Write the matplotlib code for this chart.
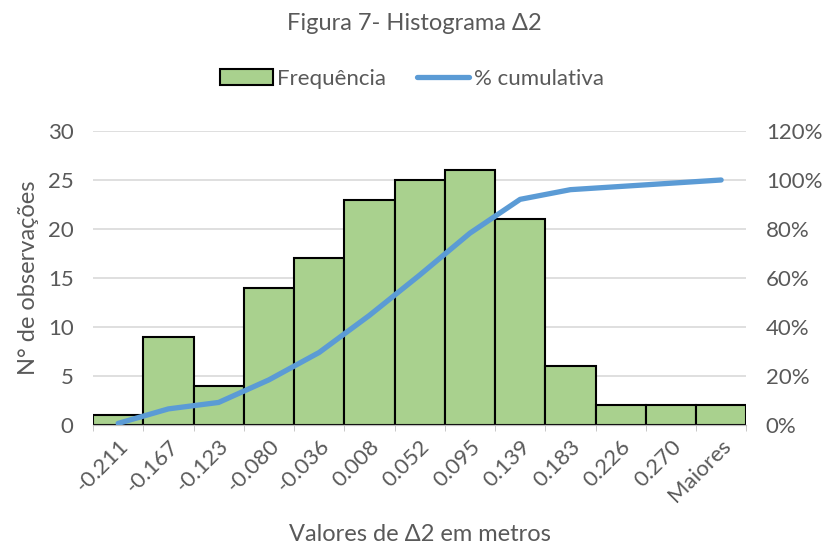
import numpy as np
import matplotlib.pyplot as plt
from matplotlib.patches import Patch
from matplotlib.lines import Line2D
from matplotlib.ticker import PercentFormatter, FixedLocator

plt.rcParams['font.family'] = ['Lato', 'DejaVu Sans']

# classes (upper limits) and counts
classes = ['-0.211', '-0.167', '-0.123', '-0.080', '-0.036', '0.008', '0.052',
           '0.095', '0.139', '0.183', '0.226', '0.270', 'Maiores']
freq = [1, 9, 4, 14, 17, 23, 25, 26, 21, 6, 2, 2, 2]
cum_pct = np.cumsum(freq) / sum(freq)

txt = '#595959'
green = '#a9d18e'
blue = '#5b9bd5'

fig = plt.figure(figsize=(8.29, 5.56), dpi=100)
ax = fig.add_axes([0.1122, 0.2356, 0.788, 0.5288])
ax2 = ax.twinx()

x = np.arange(len(classes))
ax.bar(x, freq, width=1.0, color=green, edgecolor='black', linewidth=1.5, zorder=2)
ax2.plot(x, cum_pct, color=blue, linewidth=3.8, solid_capstyle='round', zorder=3)

ax.set_xlim(-0.5, len(classes) - 0.5)
ax.set_ylim(0, 30)
ax.set_yticks(range(0, 31, 5))
ax2.set_ylim(0, 1.2)
ax2.set_yticks(np.arange(0, 1.21, 0.2))
ax2.yaxis.set_major_formatter(PercentFormatter(1.0, decimals=0))

ax.set_xticks(x)
ax.set_xticklabels(classes, rotation=45, ha='right', rotation_mode='anchor')
ax.xaxis.set_minor_locator(FixedLocator(np.arange(-0.5, len(classes), 1.0)))
ax.tick_params(axis='x', which='major', length=0, pad=8, labelsize=16, colors=txt)
ax.tick_params(axis='x', which='minor', length=4, color='#bfbfbf')
ax.tick_params(axis='y', length=0, pad=14, labelsize=16, colors=txt)
ax2.tick_params(axis='y', length=0, pad=14, labelsize=16, colors=txt)

ax.grid(axis='y', color='#d9d9d9', linewidth=1.2, zorder=0)
ax.set_axisbelow(True)
for a in (ax, ax2):
    for s in ['top', 'left', 'right']:
        a.spines[s].set_visible(False)
    a.spines['bottom'].set_color('#bfbfbf')

ax.set_ylabel('N° de observações', fontsize=17, color=txt, labelpad=6)
ax.set_xlabel('Valores de Δ2 em metros', fontsize=17, color=txt, labelpad=13)

fig.text(0.5, 0.958, 'Figura 7- Histograma Δ2', ha='center', va='center',
         fontsize=17, color=txt)

handles = [Patch(facecolor=green, edgecolor='black', linewidth=1.5),
           Line2D([0], [0], color=blue, linewidth=3.8, solid_capstyle='round')]
fig.legend(handles, ['Frequência', '% cumulativa'], loc='center',
           bbox_to_anchor=(0.497, 0.858), ncol=2, frameon=False, fontsize=16,
           labelcolor=txt, handlelength=2.35, handletextpad=0.2, columnspacing=1.4)

fig.savefig('out.png', dpi=100)
